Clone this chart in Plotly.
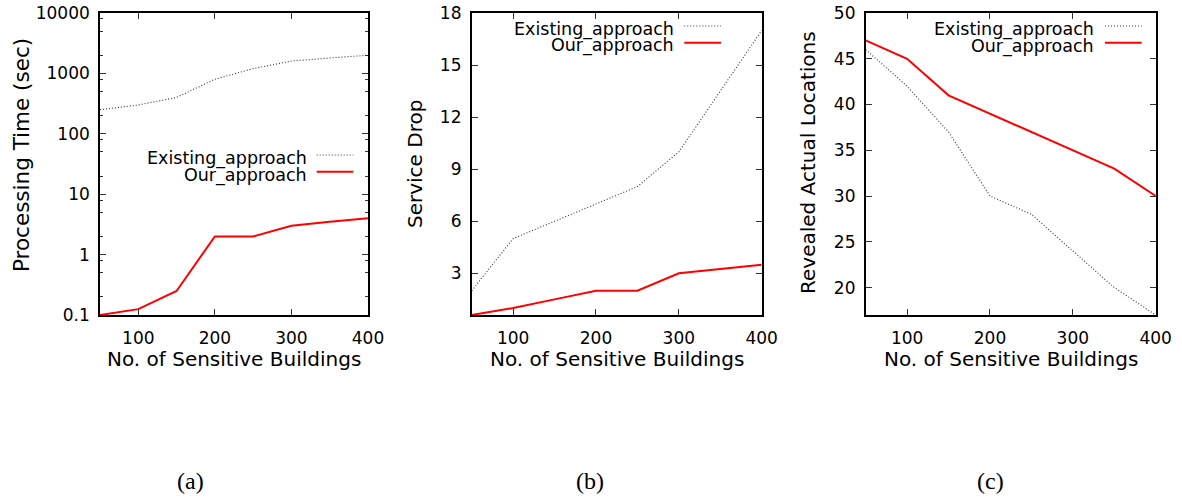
import plotly.graph_objects as go

W, H = 1182, 502

# ---------------- data ----------------
buildings = [50, 100, 150, 200, 250, 300, 350, 400]

time_existing = [250, 300, 400, 800, 1200, 1600, 1800, 2000]
time_ours = [0.1, 0.125, 0.25, 2, 2, 3, 3.5, 4]

drop_existing = [2, 5, 6, 7, 8, 10, 13.5, 17]
drop_ours = [0.6, 1, 1.5, 2, 2, 3, 3.25, 3.5]

revealed_existing = [46, 42, 37, 30, 28, 24, 20, 17]
revealed_ours = [47, 45, 41, 39, 37, 35, 33, 30]

series_names = ["Existing_approach", "Our_approach"]
x_ticks = [100, 200, 300, 400]
y_ticks_a = [0.1, 1, 10, 100, 1000, 10000]
y_ticks_a_text = ["0.1", "1", "10", "100", "1000", "10000"]
y_minor_a = [m * 10 ** e for e in range(-1, 4) for m in (2, 5, 8)]
y_ticks_b = [3, 6, 9, 12, 15, 18]
y_ticks_c = [20, 25, 30, 35, 40, 45, 50]
y_titles = ["Processing Time (sec)", "Service Drop", "Revealed Actual Locations"]
x_title = "No. of Sensitive Buildings"
captions = ["(a)", "(b)", "(c)"]

# ---------------- layout geometry (pixels) ----------------
panels = [
    dict(x0=100, x1=368, ytitle_x=22, ytitle_y=155, ytitle_size=21.5,
         leg_right=308.7, leg_s0=316.7, leg_s1=353.3,
         leg_y=(159, 175.5), leg_ly=(155, 171.7), cap_x=190),
    dict(x0=471.7, x1=761.7, ytitle_x=415, ytitle_y=164, ytitle_size=20,
         leg_right=676, leg_s0=684.3, leg_s1=721,
         leg_y=(29.7, 45.5), leg_ly=(26, 42.7), cap_x=590),
    dict(x0=865.7, x1=1155.7, ytitle_x=808, ytitle_y=163, ytitle_size=20,
         leg_right=1096, leg_s0=1105, leg_s1=1141.7,
         leg_y=(29.7, 46), leg_ly=(26, 42.7), cap_x=990),
]
PY0, PY1 = 13, 315

def px(x):
    return x / W

def py(y):
    return 1 - y / H

FONT = "DejaVu Sans"
TICK_SIZE = 17
TITLE_SIZE = 20
LEG_SIZE = 17.5

existing_style = dict(color="#333333", width=1.1, dash="1px,2px")
ours_style = dict(color="#ff0000", width=2)

fig = go.Figure()

data_sets = [
    (time_existing, time_ours),
    (drop_existing, drop_ours),
    (revealed_existing, revealed_ours),
]

for i, (ex, ours) in enumerate(data_sets):
    xa = "x" if i == 0 else f"x{i+1}"
    ya = "y" if i == 0 else f"y{i+1}"
    fig.add_trace(go.Scatter(x=buildings, y=ex, mode="lines", line=existing_style,
                             xaxis=xa, yaxis=ya, showlegend=False, name=series_names[0]))
    fig.add_trace(go.Scatter(x=buildings, y=ours, mode="lines", line=ours_style,
                             xaxis=xa, yaxis=ya, showlegend=False, name=series_names[1]))

axis_common = dict(
    showline=True, linecolor="black", linewidth=1.6, mirror="ticks",
    ticks="inside", ticklen=6, tickwidth=1.2, tickcolor="#333333",
    showgrid=False, zeroline=False, automargin=False, ticklabeloverflow="allow",
    tickfont=dict(family=FONT, size=TICK_SIZE, color="black"),
)

layout = dict(
    width=W, height=H,
    margin=dict(l=0, r=0, t=0, b=0, pad=0, autoexpand=False),
    plot_bgcolor="white", paper_bgcolor="white",
    showlegend=False,
)

y_specs = [
    dict(type="log", range=[-1, 4], tickmode="array", tickvals=y_ticks_a, ticktext=y_ticks_a_text,
         minor=dict(tickmode="array", tickvals=y_minor_a, ticks="inside", ticklen=3,
                    tickcolor="#333333", tickwidth=1, showgrid=False)),
    dict(range=[0.6, 18], tickmode="array", tickvals=y_ticks_b),
    dict(range=[17, 50], tickmode="array", tickvals=y_ticks_c),
]

for i, p in enumerate(panels):
    xk = "xaxis" if i == 0 else f"xaxis{i+1}"
    yk = "yaxis" if i == 0 else f"yaxis{i+1}"
    yanchor = "y" if i == 0 else f"y{i+1}"
    xanchor = "x" if i == 0 else f"x{i+1}"
    layout[xk] = dict(axis_common, domain=[px(p["x0"]), px(p["x1"])], anchor=yanchor,
                      range=[50, 400], tickmode="array", tickvals=x_ticks,
                      ticklabelstandoff=7)
    layout[yk] = dict(axis_common, domain=[py(PY1), py(PY0)], anchor=xanchor,
                      ticklabelstandoff=5, **y_specs[i])

fig.update_layout(**layout)

annotations = []
shapes = []
for i, p in enumerate(panels):
    cx = (p["x0"] + p["x1"]) / 2
    # x title
    annotations.append(dict(text=x_title, x=px(cx), y=py(359), xref="paper", yref="paper",
                            xanchor="center", yanchor="middle", showarrow=False,
                            font=dict(family=FONT, size=TITLE_SIZE, color="black")))
    # y title
    annotations.append(dict(text=y_titles[i], x=px(p["ytitle_x"]), y=py(p["ytitle_y"]),
                            xref="paper", yref="paper", xanchor="center", yanchor="middle",
                            textangle=-90, showarrow=False,
                            font=dict(family=FONT, size=p["ytitle_size"], color="black")))
    # caption
    annotations.append(dict(text=captions[i], x=px(p["cap_x"]), y=py(481), xref="paper", yref="paper",
                            xanchor="center", yanchor="middle", showarrow=False,
                            font=dict(family="Liberation Serif", size=24, color="black")))
    # legend entries
    for j, (name, style) in enumerate(zip(series_names, [existing_style, ours_style])):
        annotations.append(dict(text=name, x=px(p["leg_right"]), y=py(p["leg_y"][j]),
                                xref="paper", yref="paper", xanchor="right", yanchor="middle",
                                showarrow=False,
                                font=dict(family=FONT, size=LEG_SIZE, color="black")))
        shapes.append(dict(type="line", xref="paper", yref="paper",
                           x0=px(p["leg_s0"]), x1=px(p["leg_s1"]),
                           y0=py(p["leg_ly"][j]), y1=py(p["leg_ly"][j]),
                           line=style))

fig.update_layout(annotations=annotations, shapes=shapes)

# remove the default 8px page margin so the figure fills the window exactly
fig.write_html("out.html", config={"displayModeBar": False},
               post_script="document.body.style.margin='0px';")
